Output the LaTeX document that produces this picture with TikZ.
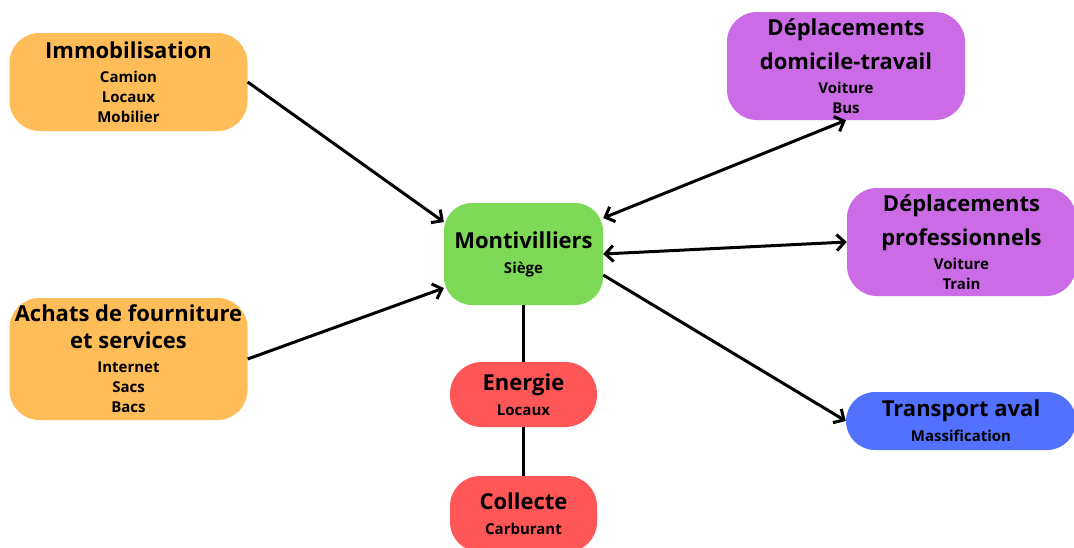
\documentclass[tikz,border=0pt]{standalone}
\usepackage{fontspec}
\setmainfont{Open Sans}
\usetikzlibrary{arrows.meta}
\definecolor{corange}{HTML}{FFBD59}
\definecolor{cgreen}{HTML}{7ED957}
\definecolor{cred}{HTML}{FF5757}
\definecolor{cpurple}{HTML}{CB6CE6}
\definecolor{cblue}{HTML}{5271FF}
\newcommand{\ttl}[1]{{\fontsize{22}{30}\selectfont #1}}
\begin{document}
\begin{tikzpicture}[x=1pt,y=-1pt,
  box/.style={draw=none, inner sep=0pt, align=center,
    font=\fontsize{15}{20}\selectfont\bfseries},
  link/.style={line width=3pt, black},
  arr/.style={link, -{Straight Barb[length=8pt,width=16pt,line width=3pt]}},
  darr/.style={link, {Straight Barb[length=8pt,width=16pt,line width=3pt]}-{Straight Barb[length=8pt,width=16pt,line width=3pt]}}]
\useasboundingbox (0,0) rectangle (1074,547);
\fill[white] (0,0) rectangle (1074,547);

\node[box, fill=corange, rounded corners=30pt, minimum width=238pt, minimum height=98pt] (immo) at (128.5,82)
  {\ttl{Immobilisation}\\[4pt]Camion\\Locaux\\Mobilier};
\node[box, fill=corange, rounded corners=30pt, minimum width=238pt, minimum height=122pt] (achats) at (128.5,359)
  {\ttl{Achats de fourniture}\\[7pt]\ttl{et services}\\[4pt]Internet\\Sacs\\Bacs};
\node[box, fill=cgreen, rounded corners=28pt, minimum width=159pt, minimum height=102pt] (mont) at (523.5,254)
  {\ttl{Montivilliers}\\[5pt]Siège};
\node[box, fill=cred, rounded corners=32pt, minimum width=147pt, minimum height=65pt] (energie) at (523.5,394.5)
  {\ttl{Energie}\\[5pt]Locaux};
\node[box, fill=cred, rounded corners=30pt, minimum width=147pt, minimum height=76pt] (collecte) at (523.5,514)
  {\ttl{Collecte}\\[5pt]Carburant};
\node[box, fill=cpurple, rounded corners=30pt, minimum width=238pt, minimum height=108pt] (dom) at (846,66)
  {\ttl{Déplacements}\\[11pt]\ttl{domicile-travail}\\[4pt]Voiture\\Bus};
\node[box, fill=cpurple, rounded corners=30pt, minimum width=229pt, minimum height=108pt] (pro) at (961.5,242)
  {\ttl{Déplacements}\\[11pt]\ttl{professionnels}\\[4pt]Voiture\\Train};
\node[box, fill=cblue, rounded corners=29pt, minimum width=230pt, minimum height=58pt] (trans) at (961,421)
  {\ttl{Transport aval}\\[5pt]Massification};

\draw[arr] (immo.east) -- ([yshift=32pt]mont.west);
\draw[arr] (achats.east) -- ([yshift=-34pt]mont.west);
\draw[darr] ([yshift=36pt]mont.east) -- (dom.south);
\draw[darr] (mont.east) -- (pro.west);
\draw[arr] ([yshift=-21pt]mont.east) -- (trans.west);
\draw[link] (mont.south) -- (energie.north);
\draw[link] (energie.south) -- (collecte.north);
\end{tikzpicture}
\end{document}
